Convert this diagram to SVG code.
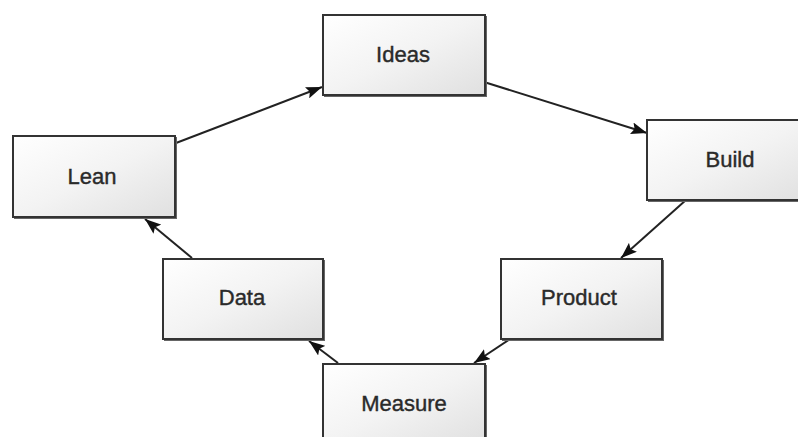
<svg xmlns="http://www.w3.org/2000/svg" width="798" height="437" viewBox="0 0 798 437">
  <defs>
    <linearGradient id="g" x1="0" y1="0" x2="1" y2="1">
      <stop offset="0" stop-color="#ffffff"/>
      <stop offset="0.5" stop-color="#f3f3f3"/>
      <stop offset="1" stop-color="#e0e0e0"/>
    </linearGradient>
    <marker id="ah" viewBox="0 0 16 12" refX="16" refY="6" markerWidth="16" markerHeight="12" markerUnits="userSpaceOnUse" orient="auto">
      <path d="M0,0 L16,6 L0,12 L3,6 Z" fill="#111"/>
    </marker>
  </defs>
  <style>
    .box { fill: url(#g); stroke: #333; stroke-width: 2; }
    .sh { fill: #666; }
    .lbl { font-family: "Liberation Sans", Arial, sans-serif; font-size: 22px; fill: #2a2a2a; stroke: #2a2a2a; stroke-width: 0.4; text-anchor: middle; }
    .edge { stroke: #222; stroke-width: 2; fill: none; marker-end: url(#ah); }
  </style>
  <rect width="798" height="437" fill="#ffffff"/>
  <g id="connectors">
    <line class="edge" x1="176" y1="143" x2="322" y2="87"/>
    <line class="edge" x1="484" y1="82" x2="647" y2="133"/>
    <line class="edge" x1="686" y1="200" x2="621" y2="258"/>
    <line class="edge" x1="510" y1="339" x2="474" y2="363"/>
    <line class="edge" x1="338" y1="363" x2="309" y2="341"/>
    <line class="edge" x1="192" y1="258" x2="145" y2="219"/>
  </g>
  <g id="ideas">
    <rect class="sh" x="324" y="16" width="163" height="81"/>
    <rect class="box" x="323" y="15" width="162" height="80"/>
    <text class="lbl" x="403" y="62">Ideas</text>
  </g>
  <g id="lean">
    <rect class="sh" x="14" y="137" width="163" height="82"/>
    <rect class="box" x="13" y="136" width="162" height="81"/>
    <text class="lbl" x="92" y="184">Lean</text>
  </g>
  <g id="build">
    <rect class="sh" x="648" y="121" width="163" height="81"/>
    <rect class="box" x="647" y="120" width="162" height="80"/>
    <text class="lbl" x="730" y="167">Build</text>
  </g>
  <g id="data">
    <rect class="sh" x="164" y="260" width="161" height="81"/>
    <rect class="box" x="163" y="259" width="160" height="80"/>
    <text class="lbl" x="242" y="305">Data</text>
  </g>
  <g id="product">
    <rect class="sh" x="502" y="260" width="162" height="81"/>
    <rect class="box" x="501" y="259" width="161" height="80"/>
    <text class="lbl" x="579" y="305">Product</text>
  </g>
  <g id="measure">
    <rect class="sh" x="324" y="365" width="163" height="81"/>
    <rect class="box" x="323" y="364" width="162" height="80"/>
    <text class="lbl" x="404" y="411">Measure</text>
  </g>
</svg>
